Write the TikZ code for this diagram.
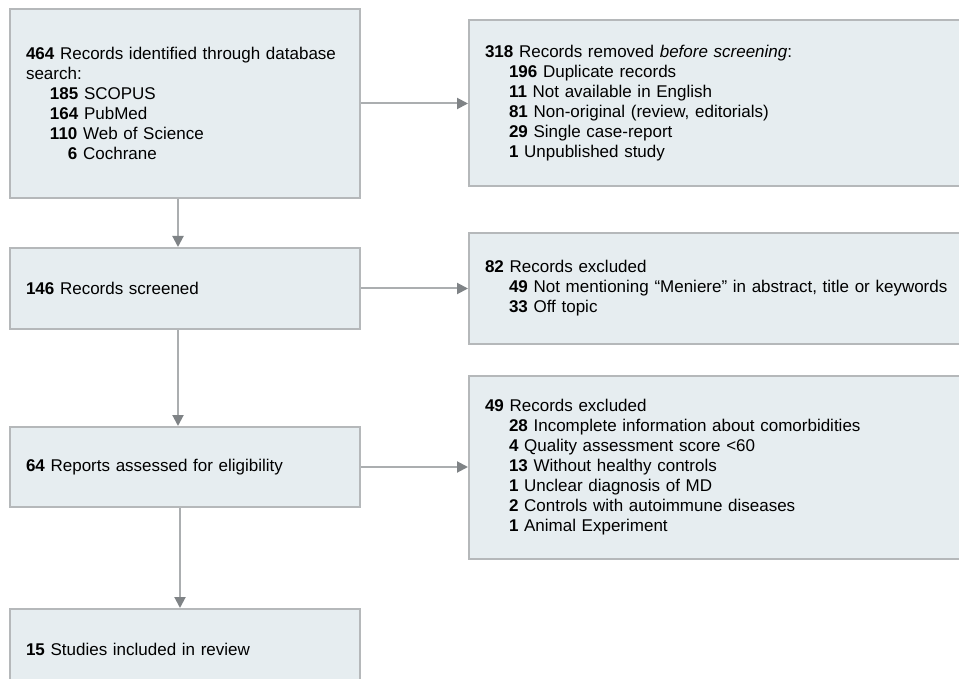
\documentclass[tikz,border=0pt]{standalone}
\usepackage{fontspec}
\setmainfont{Liberation Sans}
\usetikzlibrary{arrows.meta}
\definecolor{boxfill}{HTML}{E6EDF0}
\definecolor{boxline}{HTML}{B5B8BA}
\definecolor{arrline}{HTML}{ABAEB0}
\definecolor{arrhead}{HTML}{7F8386}
\newcommand{\ind}{\hspace*{24pt}}
\tikzset{
  flowbox/.style={draw=boxline, fill=boxfill, line width=2pt, rectangle,
    align=left, inner xsep=16pt, inner ysep=0pt, anchor=center,
    font=\fontsize{17}{20}\selectfont},
  leftbox/.style={flowbox, minimum width=350pt, text width=318pt},
  rightbox/.style={flowbox, minimum width=501pt, text width=469pt},
  arr/.style={draw=arrline, line width=2pt,
    -{Triangle[length=11pt,width=11pt,fill=arrhead,color=arrhead]}}
}
\begin{document}
\begin{tikzpicture}[x={(1pt,0pt)}, y={(0pt,-1pt)}]
\useasboundingbox (0,0) rectangle (959,679);
\clip (0,0) rectangle (959,679);
\fill[white] (0,0) rectangle (959,679);

\node[leftbox, minimum height=189pt] (A) at (185,103.5)
  {\textbf{464} Records identified through database\\
   search:\\
   \ind\textbf{185} SCOPUS\\
   \ind\textbf{164} PubMed\\
   \ind\textbf{110} Web of Science\\
   \ind\hphantom{\textbf{11}}\textbf{6} Cochrane};

\node[rightbox, minimum height=166pt] (B) at (719.5,103)
  {\textbf{318} Records removed \textit{before screening}:\\
   \ind\textbf{196} Duplicate records\\
   \ind\textbf{11} Not available in English\\
   \ind\textbf{81} Non-original (review, editorials)\\
   \ind\textbf{29} Single case-report\\
   \ind\textbf{1} Unpublished study};

\node[leftbox, minimum height=81pt] (C) at (185,288.5)
  {\textbf{146} Records screened};

\node[rightbox, minimum height=111pt] (D) at (719.5,288.5)
  {\textbf{82} Records excluded\\
   \ind\textbf{49} Not mentioning “Meniere” in abstract, title or keywords\\
   \ind\textbf{33} Off topic};

\node[leftbox, minimum height=80pt] (E) at (185,467)
  {\textbf{64} Reports assessed for eligibility};

\node[rightbox, minimum height=183pt] (F) at (719.5,467.5)
  {\textbf{49} Records excluded\\
   \ind\textbf{28} Incomplete information about comorbidities\\
   \ind\textbf{4} Quality assessment score <60\\
   \ind\textbf{13} Without healthy controls\\
   \ind\textbf{1} Unclear diagnosis of MD\\
   \ind\textbf{2} Controls with autoimmune diseases\\
   \ind\textbf{1} Animal Experiment};

\node[leftbox, minimum height=81pt] (G) at (185,649.5)
  {\textbf{15} Studies included in review};

\draw[arr] (A.east) -- (B.west |- A.east);
\draw[arr] ([xshift=-7pt]A.south) -- ([xshift=-7pt]C.north);
\draw[arr] (C.east) -- (D.west |- C.east);
\draw[arr] ([xshift=-7pt]C.south) -- ([xshift=-7pt]E.north);
\draw[arr] (E.east) -- (F.west |- E.east);
\draw[arr] ([xshift=-5pt]E.south) -- ([xshift=-5pt]G.north);
\end{tikzpicture}
\end{document}
